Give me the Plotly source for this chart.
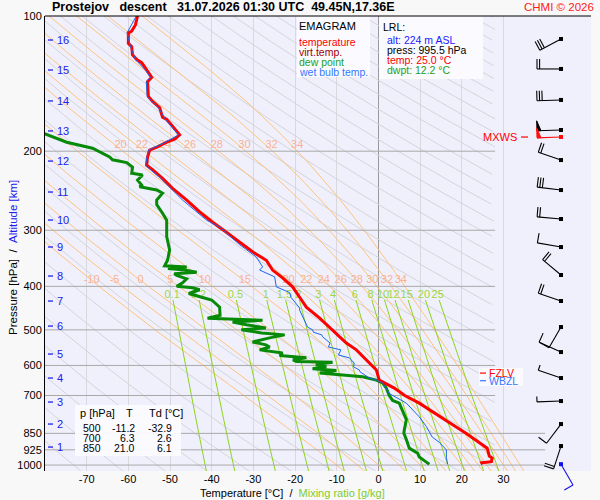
import numpy as np
import plotly.graph_objects as go

# --- sounding (pressure hPa, temperature degC) ---
temp_p = [100, 104.7, 108, 109, 115, 117, 122, 125, 127, 132, 137, 140, 151, 155, 160, 168, 170, 175, 184, 188,
          191, 196, 199, 206, 215, 220, 230, 242, 257, 273, 288, 303, 319, 335, 350, 368, 383, 401, 423, 445,
          471, 500, 535, 554, 584, 614, 647, 674, 700, 728, 786, 850, 917, 955, 965, 983, 988, 995.5]
temp_t = [-57.8, -58.3, -59.2, -60.0, -60.0, -59.2, -59.0, -58.0, -56.8, -55.6, -54.4, -55.4, -55.2, -54.2, -52.5,
          -51.8, -50.8, -49.6, -47.7, -48.9, -50.8, -53.2, -54.9, -55.4, -55.6, -54.2, -51.8, -49.4, -46.0, -42.9,
          -39.8, -36.5, -33.3, -30.2, -26.9, -25.4, -23.0, -20.6, -18.9, -17.3, -14.1, -11.2, -7.7, -5.3, -2.9,
          -0.5, 0.2, 3.8, 6.3, 9.8, 15.3, 21.0, 26.1, 26.6, 27.3, 27.1, 24.8, 25.0]

dwpt_p = [180, 191, 197, 206, 209, 212, 217, 224, 226, 232, 238, 240, 244, 248, 257, 263, 275, 285, 310, 332,
          350, 360, 362, 365, 368, 372, 375, 378, 385, 393, 400, 403, 407, 415, 423, 429, 445, 458, 464, 471,
          476, 480, 487, 495, 500, 508, 513, 521, 532, 540, 546, 554, 563, 570, 577, 583, 588, 590, 597, 603,
          610, 616, 624, 636, 647, 656, 674, 700, 718, 728, 761, 792, 836, 850, 877, 917, 941, 960, 985, 995.5]
dwpt_t = [-82.0, -74.8, -68.6, -64.5, -63.8, -60.4, -59.0, -59.2, -56.6, -57.8, -56.8, -57.3, -53.2, -51.8, -53.2,
          -53.2, -51.8, -50.8, -50.8, -50.1, -50.6, -51.3, -46.0, -50.5, -46.5, -43.6, -49.0, -48.4, -46.0, -47.0,
          -48.4, -44.6, -42.9, -45.5, -42.4, -40.0, -38.1, -38.1, -38.0, -41.0, -27.8, -35.0, -31.7, -27.0, -32.9,
          -28.0, -22.5, -26.1, -30.2, -27.0, -26.1, -28.5, -23.0, -23.7, -17.3, -20.5, -19.7, -11.0, -15.0, -12.5,
          -15.8, -10.1, -14.1, -3.8, -0.5, 1.0, 1.9, 2.6, 3.4, 5.0, 5.8, 6.7, 6.2, 6.1, 6.7, 7.4, 9.4, 9.8, 11.5, 12.2]

wetb_p = [100, 109, 117, 125, 132, 137, 140, 151, 160, 170, 184, 191, 199, 215, 230, 242, 257, 285, 295, 323,
          344, 362, 368, 381, 401, 413, 423, 447, 452, 493, 500, 506, 513, 518, 535, 546, 554, 569, 577, 593,
          604, 614, 620, 640, 647, 656, 693, 728, 781, 821, 866, 890, 925, 962, 990, 995.5]
wetb_t = [-58.1, -60.3, -59.5, -58.3, -55.9, -54.7, -55.7, -55.5, -52.8, -51.1, -48.0, -51.1, -55.2, -55.9, -52.2,
          -49.9, -47.0, -41.2, -38.1, -33.3, -29.3, -27.8, -28.5, -24.9, -24.5, -21.3, -21.0, -18.9, -18.9, -17.0,
          -15.8, -15.6, -13.6, -13.4, -11.6, -12.0, -9.0, -9.6, -7.0, -5.8, -6.0, -4.6, -4.4, -2.2, -0.5, 1.0,
          2.6, 6.7, 9.8, 11.5, 12.9, 14.6, 16.3, 16.3, 16.5, 16.6]

# wind (direction deg, speed kt)
wind_p = [112.5, 131.2, 153.8, 179.4, 209.3, 244.1, 283.2, 327.0, 377.4, 431.2, 492.8, 560.2, 640.1, 720.3, 810.4, 907.2]
wind_dir = [242, 270, 268, 268, 289, 277, 275, 280, 310, 289, 210, 294, 289, 268, 217, 198]
wind_kt = [30, 20, 30, 50, 20, 30, 20, 10, 20, 20, 10, 10, 5, 5, 10, 20]
mxws_p, mxws_dir, mxws_kt = 186.0, 268, 50
sfc_p, sfc_dir, sfc_kt = 995.5, 150, 10
fzlv_p, wbzl_p = 624, 649

# altitude scale (km -> hPa)
alt_km = [1, 2, 3, 4, 5, 6, 7, 8, 9, 10, 11, 12, 13, 14, 15, 16]
alt_p = [911.9, 810.4, 723.9, 640.1, 566.0, 490.3, 431.3, 379.4, 326.9, 284.7, 246.6, 210.4, 180.3, 154.6, 131.9, 113.1]

isobars = [200, 300, 400, 500, 600, 700, 850, 925, 1000]
isotherms = [-70, -60, -50, -40, -30, -20, -10, 0, 10, 20, 30]
theta_k = list(range(190, 590, 10))
theta_w = [-10, -5, 0, 5, 10, 15, 20, 22, 24, 26, 28, 30, 32, 34]
theta_w_upper = [20, 22, 24, 26, 28, 30, 32, 34]
mix_ratio = [0.1, 0.2, 0.5, 1, 1.5, 2, 3, 4, 6, 8, 10, 12, 15, 20, 25]

table_p = ["500", "700", "850"]
table_t = ["-11.2", "6.3", "21.0"]
table_td = ["-32.9", "2.6", "6.1"]

# --- geometry ---
W, H = 600, 500
ML, MR, MT, MB = 45, 9, 16, 29
T_MIN, T_MAX = -80.0, 51.0
P_TOP, P_BOT = 100.0, 1031.0
plot_w = W - ML - MR
plot_h = H - MT - MB
px_per_c = plot_w / (T_MAX - T_MIN)
px_per_dec = plot_h / (np.log10(P_BOT) - np.log10(P_TOP))
FONT = "Liberation Sans, Arial, sans-serif"


def paper(x, y):
    return (x - ML) / plot_w, 1 - (y - MT) / plot_h


def t_at_px(x):
    return T_MIN + (x - ML) / px_per_c


def x_px(t):
    return ML + (t - T_MIN) * px_per_c


def y_px(p):
    return MT + (np.log10(p) - np.log10(P_TOP)) * px_per_dec


def sat_vp(tc):
    return 6.112 * np.exp(17.67 * tc / (tc + 243.5))


def moist_lapse(tc, p):
    t = tc + 273.15
    e = sat_vp(tc)
    r = 0.622 * e / (p - e)
    return (287.04 * t + 2.501e6 * r) / (p * (1005.7 + 2.501e6 ** 2 * r * 0.622 / (287.04 * t * t)))


def pseudo_adiabat(tw):
    res = []
    for grid in (np.linspace(1000, 100, 181), np.linspace(1000, 1040, 9)):
        t = tw
        ts = [t]
        for p0, p1 in zip(grid[:-1], grid[1:]):
            h = p1 - p0
            k1 = moist_lapse(t, p0)
            k2 = moist_lapse(t + h * k1 / 2, p0 + h / 2)
            k3 = moist_lapse(t + h * k2 / 2, p0 + h / 2)
            k4 = moist_lapse(t + h * k3, p1)
            t += h * (k1 + 2 * k2 + 2 * k3 + k4) / 6
            ts.append(t)
        res.append((grid, np.array(ts)))
    (pu, tu), (pd, td) = res
    # increasing pressure order
    return np.concatenate([pu[::-1], pd[1:]]), np.concatenate([tu[::-1], td[1:]])


def mix_t(w, p):
    e = w * p / (622.0 + w)
    a = np.log(e / 6.112)
    return 243.5 * a / (17.67 - a)


def seg_lines(pairs):
    xs, ys = [], []
    for x, y in pairs:
        xs += list(x) + [None]
        ys += list(y) + [None]
    return xs, ys


fig = go.Figure()

# dry adiabats
p_grid = np.geomspace(95, 1040, 220)
dry = []
for th in theta_k:
    t = th * (p_grid / 1000.0) ** 0.2857 - 273.15
    t = np.where(t <= 28, t, np.nan)
    dry.append((t, p_grid))
x, y = seg_lines(dry)
fig.add_trace(go.Scatter(x=x, y=y, mode="lines", line=dict(color="#d4d4d8", width=1), hoverinfo="skip"))

# moist adiabats
moist = {}
for tw in theta_w:
    moist[tw] = pseudo_adiabat(tw)
x, y = seg_lines([(moist[tw][1], moist[tw][0]) for tw in theta_w])
fig.add_trace(go.Scatter(x=x, y=y, mode="lines", line=dict(color="#ffc37c", width=1), hoverinfo="skip"))

# mixing ratio lines
pm = np.geomspace(429, 1040, 40)
x, y = seg_lines([(mix_t(w, pm), pm) for w in mix_ratio])
fig.add_trace(go.Scatter(x=x, y=y, mode="lines", line=dict(color="#8cd41a", width=1), hoverinfo="skip"))

# isobars
iso = [([T_MIN, 28 if p < 800 else 40], [p, p]) for p in isobars]
x, y = seg_lines(iso)
fig.add_trace(go.Scatter(x=x, y=y, mode="lines", line=dict(color="#a8a8a8", width=1), hoverinfo="skip"))


# labels of moist adiabats and mixing ratio lines
def interp_t(tw, p):
    pp, tt = moist[tw]
    return float(np.interp(np.log(p), np.log(pp), tt))


lab_x = [interp_t(tw, 388) for tw in theta_w] + [interp_t(tw, 194) + 1.3 for tw in theta_w_upper]
lab_y = [388] * len(theta_w) + [194] * len(theta_w_upper)
lab_t = [str(v) for v in theta_w] + [str(v) for v in theta_w_upper]
fig.add_trace(go.Scatter(x=lab_x, y=lab_y, mode="text", text=lab_t,
                         textfont=dict(color="#f9b195", size=11, family=FONT), hoverinfo="skip"))
fig.add_trace(go.Scatter(x=[float(mix_t(w, 419)) for w in mix_ratio], y=[419] * len(mix_ratio), mode="text",
                         text=[str(w) for w in mix_ratio],
                         textfont=dict(color="#9ad846", size=11, family=FONT), hoverinfo="skip"))

# sounding
fig.add_trace(go.Scatter(x=dwpt_t, y=dwpt_p, mode="lines", line=dict(color="#078a07", width=3), hoverinfo="skip"))
fig.add_trace(go.Scatter(x=temp_t, y=temp_p, mode="lines", line=dict(color="#a00000", width=1), hoverinfo="skip"))
fig.add_trace(go.Scatter(x=temp_t, y=temp_p, mode="lines", line=dict(color="#ff0000", width=3), hoverinfo="skip"))
fig.add_trace(go.Scatter(x=wetb_t, y=wetb_p, mode="lines", line=dict(color="#1a66ee", width=1), hoverinfo="skip"))

# altitude ticks
ax0, ax1 = t_at_px(48), t_at_px(53)
x, y = seg_lines([([ax0, ax1], [p, p]) for p in alt_p])
fig.add_trace(go.Scatter(x=x, y=y, mode="lines", line=dict(color="#2020ee", width=1.3), hoverinfo="skip"))

# wind barbs
BARB_T = t_at_px(561)
STAFF, FULL, HALF, STEP = 24, 10, 5.5, 2.6


def barb_px(p, wdir, spd):
    """barb geometry in screen pixels (y down)"""
    th = np.radians(wdir)
    ux, uy = np.sin(th), -np.cos(th)
    bx, by = -uy, ux
    x0, y0 = x_px(BARB_T), y_px(p)
    ex, ey = x0 + STAFF * ux, y0 + STAFF * uy
    lines = [[(x0, y0), (ex, ey)]]
    flags = []
    d = 0.0
    n50, rest = divmod(spd, 50)
    n10, rest = divmod(rest, 10)
    for _ in range(n50):
        sx, sy = ex - d * ux, ey - d * uy
        flags.append([(sx, sy), (sx - 4 * ux, sy - 4 * uy), (sx + FULL * bx, sy + FULL * by)])
        d += 5
    for _ in range(n10):
        sx, sy = ex - d * ux, ey - d * uy
        lines.append([(sx, sy), (sx + FULL * bx, sy + FULL * by)])
        d += STEP
    if rest >= 5:
        sx, sy = ex - d * ux, ey - d * uy
        lines.append([(sx, sy), (sx + HALF * bx, sy + HALF * by)])
    return lines, flags


def to_data(q):
    return t_at_px(q[0]), 10 ** (np.log10(P_TOP) + (q[1] - MT) / px_per_dec)


def add_barbs(ps, dirs, spds, color):
    xs, ys, fx, fy = [], [], [], []
    for p, dr, s in zip(ps, dirs, spds):
        lines, flags = barb_px(p, dr, s)
        for ln in lines:
            pts = [to_data(q) for q in ln]
            xs += [q[0] for q in pts] + [None]
            ys += [q[1] for q in pts] + [None]
        for fl in flags:
            pts = [to_data(q) for q in fl]
            fx += [q[0] for q in pts] + [pts[0][0], None]
            fy += [q[1] for q in pts] + [pts[0][1], None]
    fig.add_trace(go.Scatter(x=xs, y=ys, mode="lines", line=dict(color=color, width=1.1), hoverinfo="skip"))
    if fx:
        fig.add_trace(go.Scatter(x=fx, y=fy, mode="lines", fill="toself", fillcolor=color,
                                 line=dict(color=color, width=1), hoverinfo="skip"))
    fig.add_trace(go.Scatter(x=[BARB_T] * len(ps), y=ps, mode="markers", cliponaxis=False,
                             marker=dict(symbol="square", size=4, color=color), hoverinfo="skip"))


add_barbs(wind_p, wind_dir, wind_kt, "black")
add_barbs([mxws_p], [mxws_dir], [mxws_kt], "#ff1010")

# --- boxes and texts ---
shapes = []
anns = []

# surface barb reaches below the plot area, so it is drawn as unclipped shapes
sfc_lines, _ = barb_px(sfc_p, sfc_dir, sfc_kt)
for ln in sfc_lines:
    (a, b), (c, d) = [paper(*q) for q in ln]
    shapes.append(dict(type="line", xref="paper", yref="paper", x0=a, y0=b, x1=c, y1=d, layer="above",
                       line=dict(color="#1010ee", width=1.1)))
fig.add_trace(go.Scatter(x=[BARB_T], y=[sfc_p], mode="markers", cliponaxis=False,
                         marker=dict(symbol="square", size=4, color="#1010ee"), hoverinfo="skip"))


def box(x0, y0, x1, y1):
    a, b = paper(x0, y0)
    c, d = paper(x1, y1)
    shapes.append(dict(type="rect", xref="paper", yref="paper", x0=a, y0=b, x1=c, y1=d, layer="above",
                       line=dict(width=0), fillcolor="rgba(252,252,255,0.93)"))


def hline(x0, x1, y, color):
    a, b = paper(x0, y)
    c, _ = paper(x1, y)
    shapes.append(dict(type="line", xref="paper", yref="paper", x0=a, y0=b, x1=c, y1=b, layer="above",
                       line=dict(color=color, width=1.2)))


def text(s, x, y, color="black", size=10.5, anchor="left", bold=False):
    a, b = paper(x, y)
    anns.append(dict(text=f"<b>{s}</b>" if bold else s, x=a, y=b, xref="paper", yref="paper", showarrow=False,
                     xanchor=anchor, yanchor="middle", font=dict(color=color, size=size, family=FONT)))


box(297, 16, 370, 77)
box(379, 16, 483, 79)
box(75, 405, 181, 456)
box(479, 368, 523, 386)

text("EMAGRAM", 297, 26, size=11)
text("temperature", 297, 42, "#ff0000", 10.5)
text("virt.temp.", 297, 52, "#a00000", 10.5)
text("dew point", 297, 62, "#1aa01a", 10.5)
text("wet bulb temp.", 297, 72, "#3377ff", 10.5)

text("LRL:", 381, 27, size=10.5)
text("alt: 224 m ASL", 385, 40, "#1a1aff")
text("press: 995.5 hPa", 385, 50)
text("temp: 25.0 °C", 385, 60, "#ff0000")
text("dwpt: 12.2 °C", 385, 70, "#1aa01a")

text("p [hPa]", 78, 413, size=11)
text("T", 124, 413, size=11)
text("Td [°C]", 147, 413, size=11)
for i in range(3):
    yy = 428 + 10 * i
    text(table_p[i], 103, yy, size=10.5, anchor="right")
    text(table_t[i], 137, yy, size=10.5, anchor="right")
    text(table_td[i], 174, yy, size=10.5, anchor="right")

# freezing levels and max wind labels
hline(480, 486, y_px(fzlv_p), "#ff0000")
text("FZLV", 487, y_px(fzlv_p), "#ff0000", 10.5)
hline(480, 486, y_px(wbzl_p), "#3377ff")
text("WBZL", 487, y_px(wbzl_p), "#3377ff", 10.5)
text("MXWS", 519, y_px(mxws_p), "#ff0000", 11, anchor="right")
hline(521, 528, y_px(mxws_p), "#ff0000")

for km, p in zip(alt_km, alt_p):
    text(str(km), 55, y_px(p), "#2020ee", 11)

nb = "\u00a0"
text(f"Prostejov{nb*3}descent{nb*3}31.07.2026 01:30 UTC{nb*2}49.45N,17.36E", 50, 7, size=12.5, bold=True)
text("CHMI © 2026", 596, 7, "#ff2020", 11.5, anchor="right")
text(f"Temperature [°C]{nb*2}/{nb*2}<span style='color:#7fcc2a'>Mixing ratio [g/kg]</span>", 292, 493,
     size=11, anchor="center")
a, b = paper(13, 258)
anns.append(dict(text=f"Pressure [hPa]{nb*2}/{nb*2}<span style='color:#2020ee'>Altitude [km]</span>",
                 x=a, y=b, xref="paper", yref="paper", showarrow=False, textangle=-90,
                 xanchor="center", yanchor="middle",
                 font=dict(size=11.5, family=FONT, color="black")))

shapes.append(dict(type="line", xref="paper", yref="paper", x0=0, x1=1, y0=1, y1=1,
                   line=dict(color="black", width=1), layer="above"))

fig.update_layout(
    width=W, height=H, margin=dict(l=ML, r=MR, t=MT, b=MB),
    paper_bgcolor="#f8f8f8", plot_bgcolor="#f0f0fc",
    showlegend=False, font=dict(family=FONT, size=11, color="black"),
    shapes=shapes, annotations=anns,
    xaxis=dict(range=[T_MIN, T_MAX], tickvals=isotherms, ticktext=[str(v) for v in isotherms],
               showgrid=True, gridcolor="#d9d9dd", gridwidth=1, zeroline=True, zerolinecolor="#9a9a9a",
               zerolinewidth=1, ticks="", showline=False, tickfont=dict(size=11)),
    yaxis=dict(type="log", range=[np.log10(P_BOT), np.log10(P_TOP)], tickvals=[100] + isobars,
               ticktext=[str(v) for v in [100] + isobars], showgrid=False, zeroline=False,
               showline=True, linecolor="black", linewidth=1, ticks="", tickfont=dict(size=11)),
)

fig.write_html("out.html", config={"displayModeBar": False},
               post_script="document.body.style.margin='0';")
